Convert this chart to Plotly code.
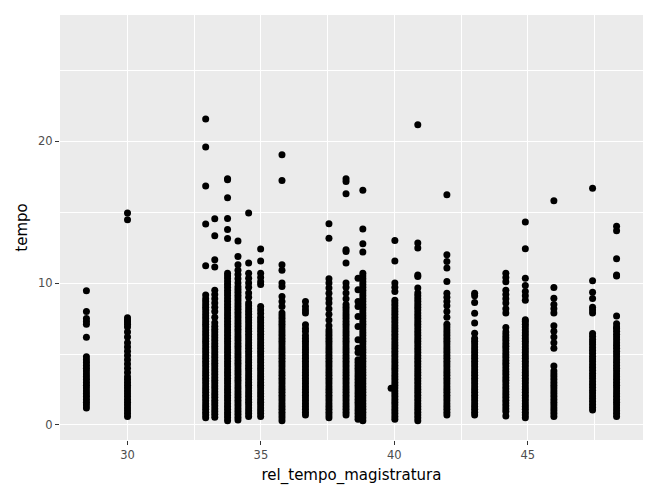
import plotly.graph_objects as go

# x position of each column (rel_tempo_magistratura) and the tempo values
col_x = [28.46, 30.0, 32.93, 33.27, 33.75, 34.14, 34.54, 34.99, 35.79, 36.67, 37.55, 38.19,
         38.64, 38.82, 39.88, 40.02, 40.88, 41.97, 43.01, 44.18, 44.91, 45.98, 47.43, 48.33]

t_28 = [9.46, 8.0, 7.5, 7.3, 7.1, 6.19,
        1.2, 1.4, 1.6, 1.8, 2.0, 2.2, 2.4, 2.6, 2.8, 3.0, 3.2, 3.4, 3.6, 3.8, 4.0, 4.2, 4.4,
        4.6, 4.8]
t_30 = [14.94, 14.47, 7.55, 7.4, 7.25, 7.1, 6.9, 6.55, 6.2, 5.8, 5.5, 5.2, 4.9, 4.6, 4.3,
        4.0, 3.7,
        0.6, 0.8, 1.0, 1.2, 1.4, 1.6, 1.8, 2.0, 2.2, 2.4, 2.6, 2.8, 3.0, 3.2, 3.4]
t_33a = [21.57, 19.6, 16.84, 14.16, 11.22, 9.17,
         0.5, 0.7, 0.9, 1.1, 1.3, 1.5, 1.7, 1.9, 2.1, 2.3, 2.5, 2.7, 2.9, 3.1, 3.3, 3.5, 3.7,
         3.9, 4.1, 4.3, 4.5, 4.7, 4.9, 5.1, 5.3, 5.5, 5.7, 5.9, 6.1, 6.3, 6.5, 6.7, 6.9, 7.1,
         7.3, 7.5, 7.7, 7.9, 8.1, 8.3, 8.5, 8.7, 8.9]
t_33b = [14.54, 13.34, 11.64, 11.13, 9.5, 9.2, 8.9, 8.6, 8.3, 8.0, 7.6, 7.2,
         0.55, 0.75, 0.95, 1.15, 1.35, 1.55, 1.75, 1.95, 2.15, 2.35, 2.55, 2.75, 2.95, 3.15,
         3.35, 3.55, 3.75, 3.95, 4.15, 4.35, 4.55, 4.75, 4.95, 5.15, 5.35, 5.55, 5.75, 5.95,
         6.15, 6.35, 6.55, 6.75, 6.95]
t_33c = [17.36, 17.29, 16.02, 14.56, 13.78, 13.15,
         0.3, 0.5, 0.7, 0.9, 1.1, 1.3, 1.5, 1.7, 1.9, 2.1, 2.3, 2.5, 2.7, 2.9, 3.1, 3.3, 3.5,
         3.7, 3.9, 4.1, 4.3, 4.5, 4.7, 4.9, 5.1, 5.3, 5.5, 5.7, 5.9, 6.1, 6.3, 6.5, 6.7, 6.9,
         7.1, 7.3, 7.5, 7.7, 7.9, 8.1, 8.3, 8.5, 8.7, 8.9, 9.1, 9.3, 9.5, 9.7, 9.9, 10.1,
         10.3, 10.5, 10.7]
t_34a = [12.96, 11.88, 11.3, 10.9, 10.6, 10.3, 10.0,
         0.35, 0.55, 0.75, 0.95, 1.15, 1.35, 1.55, 1.75, 1.95, 2.15, 2.35, 2.55, 2.75, 2.95,
         3.15, 3.35, 3.55, 3.75, 3.95, 4.15, 4.35, 4.55, 4.75, 4.95, 5.15, 5.35, 5.55, 5.75,
         5.95, 6.15, 6.35, 6.55, 6.75, 6.95, 7.15, 7.35, 7.55, 7.75, 7.95, 8.15, 8.35, 8.55,
         8.75, 8.95, 9.15, 9.35, 9.55, 9.75]
t_34b = [14.94, 11.41, 10.7, 10.35, 10.0, 9.7, 9.3, 9.0, 8.6,
         0.6, 0.8, 1.0, 1.2, 1.4, 1.6, 1.8, 2.0, 2.2, 2.4, 2.6, 2.8, 3.0, 3.2, 3.4, 3.6, 3.8,
         4.0, 4.2, 4.4, 4.6, 4.8, 5.0, 5.2, 5.4, 5.6, 5.8, 6.0, 6.2, 6.4, 6.6, 6.8, 7.0, 7.2,
         7.4, 7.6, 7.8, 8.0, 8.2, 8.4]
t_35 = [12.4, 11.55, 10.7, 10.4, 10.1, 9.9, 8.35, 8.1, 7.85, 7.6,
        0.6, 0.8, 1.0, 1.2, 1.4, 1.6, 1.8, 2.0, 2.2, 2.4, 2.6, 2.8, 3.0, 3.2, 3.4, 3.6, 3.8,
        4.0, 4.2, 4.4, 4.6, 4.8, 5.0, 5.2, 5.4, 5.6, 5.8, 6.0, 6.2, 6.4, 6.6, 6.8, 7.0, 7.2,
        7.4]
t_36a = [19.05, 17.24, 11.3, 10.9, 10.0, 9.76, 9.05, 8.7, 8.35,
         0.3, 0.5, 0.7, 0.9, 1.1, 1.3, 1.5, 1.7, 1.9, 2.1, 2.3, 2.5, 2.7, 2.9, 3.1, 3.3, 3.5,
         3.7, 3.9, 4.1, 4.3, 4.5, 4.7, 4.9, 5.1, 5.3, 5.5, 5.7, 5.9, 6.1, 6.3, 6.5, 6.7, 6.9,
         7.1, 7.3, 7.5, 7.7, 7.9]
t_36b = [8.7, 8.35, 8.1, 7.9, 7.06, 6.8, 6.58,
         0.7, 0.9, 1.1, 1.3, 1.5, 1.7, 1.9, 2.1, 2.3, 2.5, 2.7, 2.9, 3.1, 3.3, 3.5, 3.7, 3.9,
         4.1, 4.3, 4.5, 4.7, 4.9, 5.1, 5.3, 5.5, 5.7, 5.9, 6.1, 6.3]
t_37 = [14.18, 13.17, 10.3, 10.0, 9.65, 9.29, 8.9, 8.59, 8.2, 7.8, 7.4, 7.0, 6.7,
        0.5, 0.7, 0.9, 1.1, 1.3, 1.5, 1.7, 1.9, 2.1, 2.3, 2.5, 2.7, 2.9, 3.1, 3.3, 3.5, 3.7,
        3.9, 4.1, 4.3, 4.5, 4.7, 4.9, 5.1, 5.3, 5.5, 5.7, 5.9, 6.1, 6.3, 6.5]
t_38a = [17.36, 17.17, 16.3, 12.35, 12.23, 11.41, 10.0, 9.7, 9.3, 8.9, 8.5,
         0.7, 0.9, 1.1, 1.3, 1.5, 1.7, 1.9, 2.1, 2.3, 2.5, 2.7, 2.9, 3.1, 3.3, 3.5, 3.7, 3.9,
         4.1, 4.3, 4.5, 4.7, 4.9, 5.1, 5.3, 5.5, 5.7, 5.9, 6.1, 6.3, 6.5, 6.7, 6.9, 7.1, 7.3,
         7.5, 7.7, 7.9, 8.1, 8.3]
t_38b = [10.35, 9.53, 8.7, 8.35, 7.64, 6.94, 6.0, 5.4, 5.1,
         0.4, 0.6, 0.8, 1.0, 1.2, 1.4, 1.6, 1.8, 2.0, 2.2, 2.4, 2.6, 2.8, 3.0, 3.2, 3.4, 3.6,
         3.8, 4.0, 4.2, 4.4, 4.6]
t_38c = [16.54, 13.81, 12.77, 12.19,
         0.3, 0.5, 0.7, 0.9, 1.1, 1.3, 1.5, 1.7, 1.9, 2.1, 2.3, 2.5, 2.7, 2.9, 3.1, 3.3, 3.5,
         3.7, 3.9, 4.1, 4.3, 4.5, 4.7, 4.9, 5.1, 5.3, 5.5, 5.7, 5.9, 6.1, 6.3, 6.5, 6.7, 6.9,
         7.1, 7.3, 7.5, 7.7, 7.9, 8.1, 8.3, 8.5, 8.7, 8.9, 9.1, 9.3, 9.5, 9.7, 9.9, 10.1,
         10.3, 10.5, 10.7]
t_39 = [2.59]
t_40 = [13.0, 11.55, 10.0, 9.7, 9.4,
        0.4, 0.6, 0.8, 1.0, 1.2, 1.4, 1.6, 1.8, 2.0, 2.2, 2.4, 2.6, 2.8, 3.0, 3.2, 3.4, 3.6,
        3.8, 4.0, 4.2, 4.4, 4.6, 4.8, 5.0, 5.2, 5.4, 5.6, 5.8, 6.0, 6.2, 6.4, 6.6, 6.8, 7.0,
        7.2, 7.4, 7.6, 7.8, 8.0, 8.2, 8.4, 8.6, 8.8]
t_41 = [21.17, 12.82, 12.47, 10.58, 10.47, 9.65,
        0.3, 0.5, 0.7, 0.9, 1.1, 1.3, 1.5, 1.7, 1.9, 2.1, 2.3, 2.5, 2.7, 2.9, 3.1, 3.3, 3.5,
        3.7, 3.9, 4.1, 4.3, 4.5, 4.7, 4.9, 5.1, 5.3, 5.5, 5.7, 5.9, 6.1, 6.3, 6.5, 6.7, 6.9,
        7.1, 7.3, 7.5, 7.7, 7.9, 8.1, 8.3, 8.5, 8.7, 8.9, 9.1, 9.3]
t_42 = [16.23, 12.0, 11.53, 11.06, 10.11, 9.29, 9.0, 8.7, 8.4, 8.0, 7.6,
        0.7, 0.9, 1.1, 1.3, 1.5, 1.7, 1.9, 2.1, 2.3, 2.5, 2.7, 2.9, 3.1, 3.3, 3.5, 3.7, 3.9,
        4.1, 4.3, 4.5, 4.7, 4.9, 5.1, 5.3, 5.5, 5.7, 5.9, 6.1, 6.3, 6.5, 6.7, 6.9, 7.1]
t_43 = [9.29, 9.1, 8.64, 7.88, 7.18, 6.47,
        0.7, 0.9, 1.1, 1.3, 1.5, 1.7, 1.9, 2.1, 2.3, 2.5, 2.7, 2.9, 3.1, 3.3, 3.5, 3.7, 3.9,
        4.1, 4.3, 4.5, 4.7, 4.9, 5.1, 5.3, 5.5, 5.7, 5.9, 6.1]
t_44a = [10.7, 10.4, 10.1, 9.5, 9.2, 8.9, 8.6, 8.2, 7.9, 6.87, 0.64,
         0.95, 1.15, 1.35, 1.55, 1.75, 1.95, 2.15, 2.35, 2.55, 2.75, 2.95, 3.15, 3.35, 3.55,
         3.75, 3.95, 4.15, 4.35, 4.55, 4.75, 4.95, 5.15, 5.35, 5.55, 5.75, 5.95, 6.15, 6.35,
         6.55]
t_44b = [14.3, 12.42, 10.35, 9.83, 9.4, 9.1, 8.8, 7.41,
         0.5, 0.7, 0.9, 1.1, 1.3, 1.5, 1.7, 1.9, 2.1, 2.3, 2.5, 2.7, 2.9, 3.1, 3.3, 3.5, 3.7,
         3.9, 4.1, 4.3, 4.5, 4.7, 4.9, 5.1, 5.3, 5.5, 5.7, 5.9, 6.1, 6.3, 6.5, 6.7, 6.9, 7.1,
         7.3]
t_46 = [15.8, 9.69, 8.94, 8.5, 8.2, 7.9, 7.0, 6.6, 6.2, 5.8, 5.4, 4.16,
        0.6, 0.8, 1.0, 1.2, 1.4, 1.6, 1.8, 2.0, 2.2, 2.4, 2.6, 2.8, 3.0, 3.2, 3.4, 3.6, 3.8]
t_47 = [16.68, 10.16, 9.36, 8.91, 8.3, 8.1, 7.9,
        1.05, 1.25, 1.45, 1.65, 1.85, 2.05, 2.25, 2.45, 2.65, 2.85, 3.05, 3.25, 3.45, 3.65,
        3.85, 4.05, 4.25, 4.45, 4.65, 4.85, 5.05, 5.25, 5.45, 5.65, 5.85, 6.05, 6.25, 6.45]
t_48 = [14.0, 13.69, 11.71, 10.58, 10.5, 7.69, 7.13, 6.9,
        0.6, 0.8, 1.0, 1.2, 1.4, 1.6, 1.8, 2.0, 2.2, 2.4, 2.6, 2.8, 3.0, 3.2, 3.4, 3.6, 3.8,
        4.0, 4.2, 4.4, 4.6, 4.8, 5.0, 5.2, 5.4, 5.6, 5.8, 6.0, 6.2, 6.4, 6.6, 6.8]

col_tempo = [t_28, t_30, t_33a, t_33b, t_33c, t_34a, t_34b, t_35, t_36a, t_36b, t_37, t_38a,
             t_38b, t_38c, t_39, t_40, t_41, t_42, t_43, t_44a, t_44b, t_46, t_47, t_48]

x_ticks = [30, 35, 40, 45]
x_minor = [27.5, 32.5, 37.5, 42.5, 47.5]
y_ticks = [0, 10, 20]
y_minor = [5, 15, 25]

xs, ys = [], []
for xv, tv in zip(col_x, col_tempo):
    xs += [xv] * len(tv)
    ys += tv

fig = go.Figure()
fig.add_trace(go.Scatter(x=xs, y=ys, mode="markers",
                         marker=dict(color="black", size=7, line=dict(width=0))))

axis_common = dict(showgrid=True, gridcolor="white", gridwidth=1.1, zeroline=False,
                   showline=False, ticks="outside", ticklen=4, tickcolor="#333333",
                   tickwidth=1.1, tickfont=dict(size=11.5, color="#4D4D4D"))
fig.update_layout(
    width=660, height=499,
    paper_bgcolor="white", plot_bgcolor="#EBEBEB",
    font=dict(family="DejaVu Sans", color="black"),
    margin=dict(l=52, r=25, t=7, b=67),
    showlegend=False,
    xaxis=dict(range=[27.47, 49.32], tickvals=x_ticks,
               minor=dict(tickvals=x_minor, showgrid=True, gridcolor="white", gridwidth=0.5,
                          ticks=""),
               title=dict(text="rel_tempo_magistratura", font=dict(size=15), standoff=8),
               **axis_common),
    yaxis=dict(range=[-1.06, 28.9], tickvals=y_ticks,
               minor=dict(tickvals=y_minor, showgrid=True, gridcolor="white", gridwidth=0.5,
                          ticks=""),
               title=dict(text="tempo", font=dict(size=15), standoff=6),
               **axis_common),
)

fig.write_html("out.html")
